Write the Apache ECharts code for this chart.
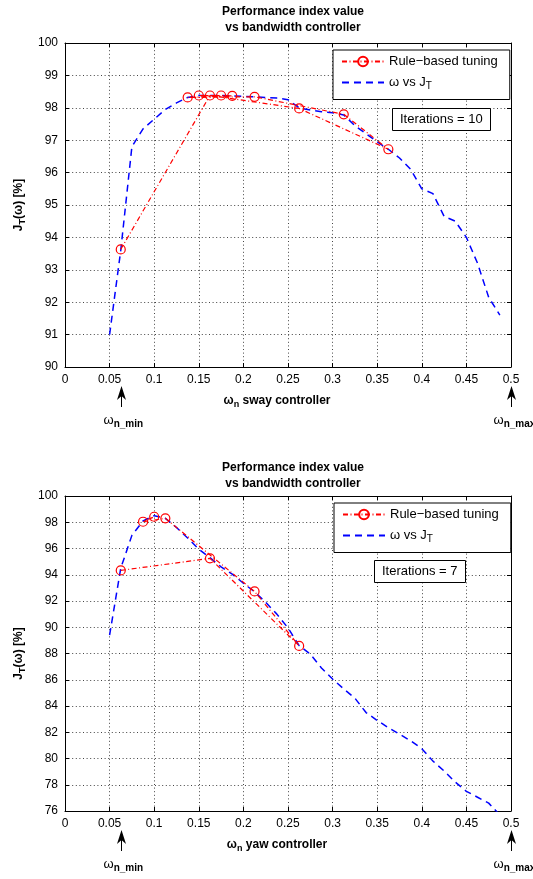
<!DOCTYPE html>
<html><head><meta charset="utf-8">
<script src="https://cdn.jsdelivr.net/npm/echarts@6/dist/echarts.min.js"></script>
<style>html,body{margin:0;padding:0;background:#fff}#c{width:533px;height:879px}</style>
</head><body><div id="c"></div>
<script>
// ---- data ----
const sweepX = [0.05,0.0625,0.075,0.0875,0.1,0.1125,0.125,0.1375,0.15,0.1625,0.175,0.1875,0.2,0.2125,0.225,0.2375,0.25,0.2625,0.275,0.2875,0.3,0.3125,0.325,0.3375,0.35,0.3625,0.375,0.3875,0.4,0.4125,0.425,0.4375,0.45,0.4625,0.475,0.4875];
const swaySweepJ = [91.0,93.6,96.8,97.35,97.65,97.95,98.15,98.32,98.38,98.38,98.38,98.37,98.35,98.34,98.32,98.3,98.25,98.0,97.93,97.88,97.85,97.78,97.45,97.2,96.95,96.72,96.45,96.1,95.5,95.35,94.65,94.5,94.0,93.2,92.15,91.6];
const swayRuleX = [0.0625,0.1625,0.2625,0.3625,0.3125,0.2125,0.1375,0.1875,0.15,0.175];
const swayRuleJ = [93.63,98.38,97.98,96.72,97.8,98.34,98.32,98.37,98.38,98.38];
const yawSweepJ = [89.4,94.5,97.0,98.1,98.5,98.3,97.6,96.8,95.95,95.3,94.6,94.05,93.35,92.7,91.9,91.0,89.95,88.6,87.95,86.9,86.05,85.3,84.6,83.5,82.9,82.35,81.85,81.35,80.75,79.8,79.05,78.2,77.5,77.05,76.6,75.7];
const yawRuleX = [0.0625,0.1625,0.2625,0.2125,0.1125,0.0875,0.1];
const yawRuleJ = [94.33,95.25,88.58,92.73,98.3,98.04,98.42];
const titleText = 'Performance index value\nvs bandwidth controller';
const ruleName = 'Rule\u2212based tuning';
const sweepName = '\u03c9 vs J_T';

const zip = (xs, ys) => xs.map((x, i) => [x, ys[i]]);

const chart = echarts.init(document.getElementById('c'), null, {renderer: 'canvas'});
const FONT = 'Liberation Sans, Arial, Helvetica, sans-serif';
const subRich = {
  sub: {fontSize: 9, fontWeight: 'bold', fontFamily: FONT, padding: [7, 0, 0, 0]}
};
const grids = [
  {left: 65, top: 43, width: 446, height: 324},
  {left: 65, top: 496, width: 446, height: 315}
];
function xAxes(gi, name) {
  return [{
    gridIndex: gi, type: 'value', min: 0, max: 0.5, interval: 0.05,
    axisLine: {show: true, onZero: false, lineStyle: {color: '#000', width: 1}},
    axisTick: {show: true, inside: true, length: 4, lineStyle: {color: '#000'}},
    axisLabel: {color: '#000', fontSize: 12, fontFamily: FONT, margin: 7,
      formatter: v => String(+v.toFixed(2))},
    splitLine: {show: true, lineStyle: {color: '#444', type: [1, 2.6], width: 1}},
    name: '\u03c9{sub|n} ' + name, nameLocation: 'middle', nameGap: 26,
    nameTextStyle: {color: '#000', fontSize: 12, fontWeight: 'bold', fontFamily: FONT,
      padding: [0, 22, 0, 0], rich: subRich}
  }, {
    gridIndex: gi, type: 'value', min: 0, max: 0.5, interval: 0.05, position: 'top',
    axisLine: {show: true, onZero: false, lineStyle: {color: '#000', width: 1}},
    axisTick: {show: true, inside: true, length: 4, lineStyle: {color: '#000'}},
    axisLabel: {show: false}, splitLine: {show: false}
  }];
}
function yAxes(gi, min, max, step) {
  return [{
    gridIndex: gi, type: 'value', min: min, max: max, interval: step,
    axisLine: {show: true, onZero: false, lineStyle: {color: '#000', width: 1}},
    axisTick: {show: true, inside: true, length: 4, lineStyle: {color: '#000'}},
    axisLabel: {color: '#000', fontSize: 12, fontFamily: FONT, margin: 7},
    splitLine: {show: true, lineStyle: {color: '#444', type: [1, 2.6], width: 1}},
    name: 'J{sub|T}(\u03c9) [%]', nameLocation: 'middle', nameGap: 36, nameRotate: 90,
    nameTextStyle: {color: '#000', fontSize: 12, fontWeight: 'bold', fontFamily: FONT, rich: subRich}
  }, {
    gridIndex: gi, type: 'value', min: min, max: max, interval: step, position: 'right',
    axisLine: {show: true, onZero: false, lineStyle: {color: '#000', width: 1}},
    axisTick: {show: true, inside: true, length: 4, lineStyle: {color: '#000'}},
    axisLabel: {show: false}, splitLine: {show: false}
  }];
}
function ruleSeries(xi, yi, data) {
  return {
    name: ruleName, type: 'line', xAxisIndex: xi, yAxisIndex: yi, data: data,
    symbol: 'circle', symbolSize: 9, showAllSymbol: true, z: 3,
    itemStyle: {color: 'rgba(255,255,255,0)', borderColor: '#ff0000', borderWidth: 1.2},
    lineStyle: {color: '#ff0000', width: 1.2, type: [5, 2.5, 1, 2.5]},
    emphasis: {disabled: true}, animation: false
  };
}
function sweepSeries(xi, yi, data) {
  return {
    name: sweepName, type: 'line', xAxisIndex: xi, yAxisIndex: yi, data: data,
    symbol: 'none', z: 2,
    itemStyle: {color: '#0000ff'},
    lineStyle: {color: '#0000ff', width: 1.5, type: [7, 5]},
    emphasis: {disabled: true}, animation: false
  };
}
function legendAt(left, top) {
  return {
    left: left, top: top, orient: 'vertical',
    data: [{name: ruleName}, {name: sweepName, itemStyle: {opacity: 0, borderWidth: 0}}],
    backgroundColor: '#fff', borderColor: '#000', borderWidth: 1,
    padding: [5, 12, 8, 8], itemWidth: 42, itemHeight: 12, itemGap: 8,
    selectedMode: false,
    formatter: n => n === sweepName ? '\u03c9 vs J{s|T}' : n,
    textStyle: {color: '#000', fontSize: 13, fontFamily: FONT,
      rich: {s: {fontSize: 10, fontFamily: FONT, padding: [8, 0, 0, 0]}}}
  };
}
function iterBox(text, left, top) {
  return {
    text: text, left: left, top: top, padding: [5, 8, 5, 8],
    borderColor: '#000', borderWidth: 1, backgroundColor: '#fff',
    textStyle: {color: '#000', fontSize: 13, fontWeight: 'normal', fontFamily: FONT}
  };
}
const option = {
  backgroundColor: '#fff',
  animation: false,
  title: [
    {text: titleText, left: 288, top: -1, textAlign: 'center',
      textStyle: {color: '#000', fontSize: 12, fontWeight: 'bold', fontFamily: FONT, lineHeight: 16}},
    {text: titleText, left: 288, top: 455, textAlign: 'center',
      textStyle: {color: '#000', fontSize: 12, fontWeight: 'bold', fontFamily: FONT, lineHeight: 16}},
    iterBox('Iterations = 10', 392, 108),
    iterBox('Iterations = 7', 374, 560)
  ],
  grid: grids,
  xAxis: [...xAxes(0, 'sway controller'), ...xAxes(1, 'yaw controller')],
  yAxis: [...yAxes(0, 90, 100, 1), ...yAxes(1, 76, 100, 2)],
  legend: [legendAt(333, 50), legendAt(334, 503)],
  series: [
    ruleSeries(0, 0, zip(swayRuleX, swayRuleJ)),
    sweepSeries(0, 0, zip(sweepX, swaySweepJ)),
    ruleSeries(2, 2, zip(yawRuleX, yawRuleJ)),
    sweepSeries(2, 2, zip(sweepX, yawSweepJ))
  ]
};
chart.setOption(option);

// arrows marking the bandwidth limits
const limits = [0.0625, 0.5];
const limitNames = ['n_min', 'n_max'];
const graphics = [];
[[0, 0, 90], [2, 2, 76]].forEach(([xi, yi, ymin]) => {
  limits.forEach((lx, k) => {
    const p = chart.convertToPixel({xAxisIndex: xi, yAxisIndex: yi}, [lx, ymin]);
    const x = Math.round(p[0]) + 0.5, yb = p[1];
    graphics.push({type: 'line', shape: {x1: x, y1: yb + 24, x2: x, y2: yb + 40},
      style: {stroke: '#000', lineWidth: 1}});
    graphics.push({type: 'polygon', shape: {points: [[x, yb + 19], [x - 4.5, yb + 33], [x, yb + 29], [x + 4.5, yb + 33]]},
      style: {fill: '#000'}});
    graphics.push({type: 'text', x: x - 18, y: yb + 44,
      style: {text: '{w|\u03c9}{s|' + limitNames[k] + '}', rich: {
        w: {fontSize: 13, fontFamily: FONT, fill: '#000'},
        s: {fontSize: 10, fontWeight: 'bold', fontFamily: FONT, fill: '#000', padding: [8, 0, 0, 0]}
      }}});
  });
});
chart.setOption({graphic: graphics});
</script>
</body></html>
